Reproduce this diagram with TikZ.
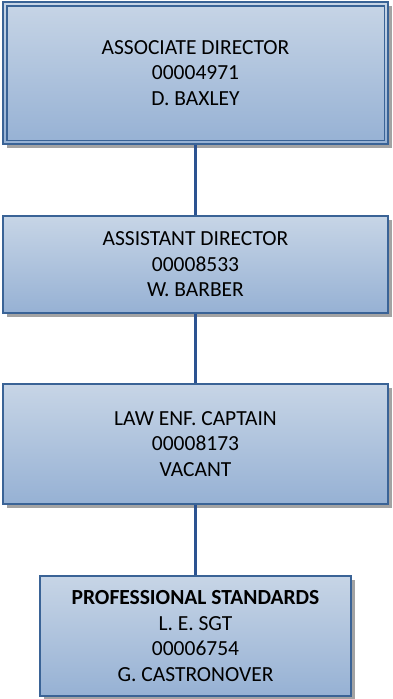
\documentclass[tikz,border=0pt]{standalone}
\usepackage{fontspec}
\setmainfont{Carlito}
\usetikzlibrary{shadows}
\definecolor{boxtop}{HTML}{C7D5E6}
\definecolor{boxbot}{HTML}{96B1D4}
\definecolor{boxline}{HTML}{3A6396}
\definecolor{conn}{HTML}{2C5391}
\definecolor{shadowgray}{HTML}{A3A3A3}
\tikzset{
  orgbox/.style={rectangle, draw=boxline, line width=1.1pt, top color=boxtop, bottom color=boxbot,
    align=center, inner sep=0pt, font=\fontsize{21.5}{25.6}\selectfont,
    drop shadow={shadow xshift=4pt, shadow yshift=-4pt, fill=shadowgray, opacity=1}},
  connector/.style={draw=conn, line width=2.6pt}
}
\begin{document}
\begin{tikzpicture}[x=1pt,y=-1pt]
\useasboundingbox (0,0) rectangle (392,699);
\node[orgbox, minimum width=385pt, minimum height=142pt] (b1) at (195.5,73)
  {ASSOCIATE DIRECTOR\\00004971\\D. BAXLEY};
\draw[boxline, line width=1.1pt] ([shift={(4.5pt,-4.5pt)}]b1.north west) rectangle ([shift={(-4.5pt,4.5pt)}]b1.south east);
\node[orgbox, minimum width=385pt, minimum height=97pt] (b2) at (195.5,264.5)
  {ASSISTANT DIRECTOR\\00008533\\W. BARBER};
\node[orgbox, minimum width=385pt, minimum height=120pt] (b3) at (195.5,444)
  {LAW ENF. CAPTAIN\\00008173\\VACANT};
\node[orgbox, minimum width=311pt, minimum height=120pt] (b4) at (195.5,636)
  {\textbf{PROFESSIONAL STANDARDS}\\L. E. SGT\\00006754\\G. CASTRONOVER};
\draw[connector] (b1.south) -- (b2.north);
\draw[connector] (b2.south) -- (b3.north);
\draw[connector] (b3.south) -- (b4.north);
\end{tikzpicture}
\end{document}
